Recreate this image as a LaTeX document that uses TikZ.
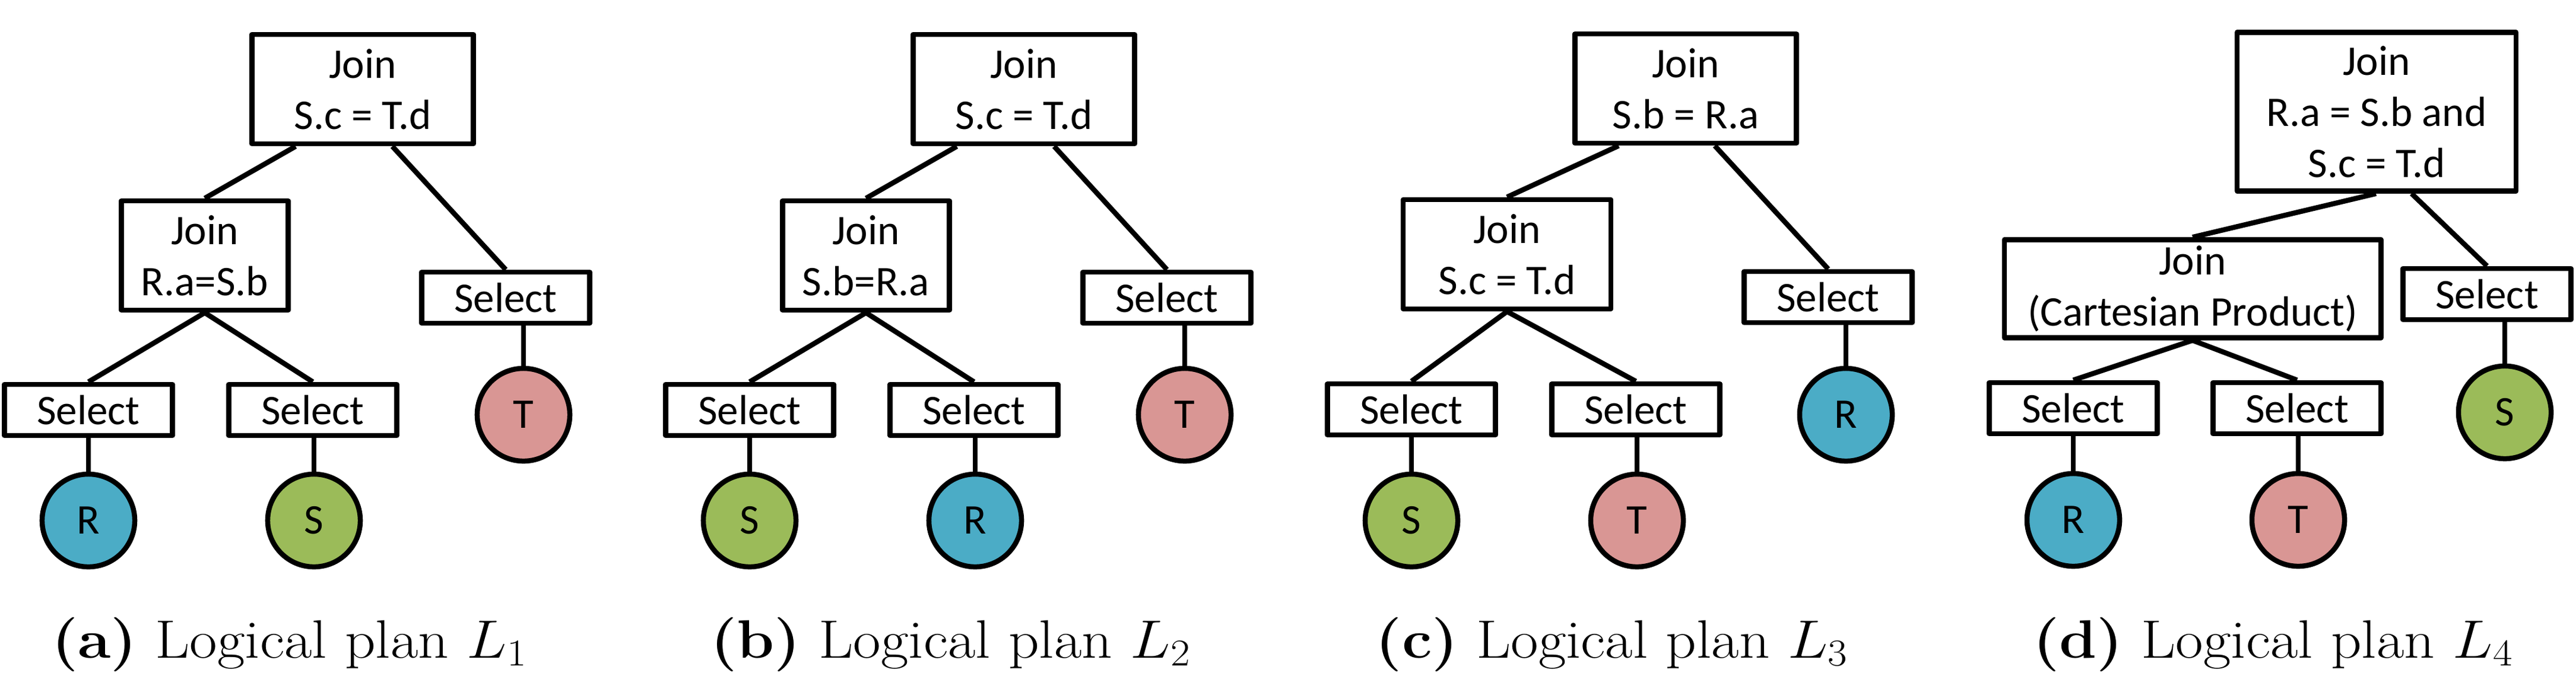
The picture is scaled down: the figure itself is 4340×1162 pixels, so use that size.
\RequirePackage{fix-cm}
\documentclass[tikz,border=0pt]{standalone}
\usepackage{graphicx}
\usepackage{fontspec}
\newfontfamily\opfam{Carlito}
\usetikzlibrary{calc}
\definecolor{relR}{HTML}{4BACC6}
\definecolor{relS}{HTML}{9BBB59}
\definecolor{relT}{HTML}{D99694}
\newcommand{\opfont}{\opfam\fontsize{20.2}{24.5}\selectfont}
\newcommand{\capfont}{\fontsize{25.9}{31}\selectfont}
\newcommand{\plancap}[2]{\scalebox{1.11}[1]{\capfont\textbf{(#1)} Logical plan $L_{#2}$}}
\tikzset{
  opbox/.style={draw, line width=2.42pt, line join=round, inner sep=0pt, align=center, font=\opfont, fill=white},
  selbox/.style={opbox, minimum width=2.83cm, minimum height=0.86cm},
  joinbox/.style={opbox, minimum height=1.84cm},
  rel/.style={circle, draw, line width=2.42pt, minimum size=1.56cm, inner sep=0pt, font=\opfont},
  link/.style={line width=2.42pt},
  captext/.style={anchor=base, inner sep=0pt}
}
\begin{document}
\begin{tikzpicture}[x=0.01cm, y=-0.01cm]
\useasboundingbox (0,0) rectangle (4340,1162);

% ---------- (a) ----------
\node[joinbox, minimum width=3.73cm] (J1a) at (611,150) {Join\\S.c = T.d};
\node[joinbox, minimum width=2.81cm] (J2a) at (345,430) {Join\\R.a=S.b};
\node[selbox] (STa) at (852,501) {Select};
\node[selbox] (SRa) at (149,690) {Select};
\node[selbox] (SSa) at (527,690) {Select};
\node[rel, fill=relR] (Ra) at (149,876) {R};
\node[rel, fill=relS] (Sa) at (529,876) {S};
\node[rel, fill=relT] (Ta) at (882,698) {T};
\draw[link] ($(J1a.south)+(-113,0)$) -- (J2a.north);
\draw[link] ($(J1a.south)+(50,0)$) -- (STa.north);
\draw[link] (J2a.south) -- (SRa.north);
\draw[link] (J2a.south) -- (SSa.north);
\draw[link] (Ra.north) -- (Ra.north |- SRa.south);
\draw[link] (Sa.north) -- (Sa.north |- SSa.south);
\draw[link] (Ta.north) -- (Ta.north |- STa.south);
\node[captext] (capa) at (488,1107) {\plancap{a}{1}};

% ---------- (b) ----------
\node[joinbox, minimum width=3.73cm] (J1b) at (1725,150) {Join\\S.c = T.d};
\node[joinbox, minimum width=2.81cm] (J2b) at (1459,430) {Join\\S.b=R.a};
\node[selbox] (STb) at (1966,501) {Select};
\node[selbox] (SSb) at (1263,690) {Select};
\node[selbox] (SRb) at (1641,690) {Select};
\node[rel, fill=relS] (Sb) at (1263,876) {S};
\node[rel, fill=relR] (Rb) at (1643,876) {R};
\node[rel, fill=relT] (Tb) at (1996,698) {T};
\draw[link] ($(J1b.south)+(-113,0)$) -- (J2b.north);
\draw[link] ($(J1b.south)+(51,0)$) -- (STb.north);
\draw[link] (J2b.south) -- (SSb.north);
\draw[link] (J2b.south) -- (SRb.north);
\draw[link] (Sb.north) -- (Sb.north |- SSb.south);
\draw[link] (Rb.north) -- (Rb.north |- SRb.south);
\draw[link] (Tb.north) -- (Tb.north |- STb.south);
\node[captext] (capb) at (1602,1107) {\plancap{b}{2}};

% ---------- (c) ----------
\node[joinbox, minimum width=3.73cm] (J1c) at (2840,149) {Join\\S.b = R.a};
\node[joinbox, minimum width=3.50cm] (J2c) at (2539,428) {Join\\S.c = T.d};
\node[selbox] (SRc) at (3080,500) {Select};
\node[selbox] (SSc) at (2378,689) {Select};
\node[selbox] (STc) at (2756,689) {Select};
\node[rel, fill=relS] (Sc) at (2378,876) {S};
\node[rel, fill=relT] (Tc) at (2758,876) {T};
\node[rel, fill=relR] (Rc) at (3110,698) {R};
\draw[link] ($(J1c.south)+(-113,0)$) -- (J2c.north);
\draw[link] ($(J1c.south)+(49,0)$) -- (SRc.north);
\draw[link] (J2c.south) -- (SSc.north);
\draw[link] (J2c.south) -- (STc.north);
\draw[link] (Sc.north) -- (Sc.north |- SSc.south);
\draw[link] (Tc.north) -- (Tc.north |- STc.south);
\draw[link] (Rc.north) -- (Rc.north |- SRc.south);
\node[captext] (capc) at (2716,1107) {\plancap{c}{3}};

% ---------- (d) ----------
\node[opbox, minimum width=4.70cm, minimum height=2.67cm] (J1d) at (4004,188) {Join\\R.a = S.b and\\S.c = T.d};
\node[opbox, minimum width=6.34cm, minimum height=1.65cm] (J2d) at (3694,486) {Join\\(Cartesian Product)};
\node[selbox] (SSd) at (4190,495) {Select};
\node[selbox] (SRd) at (3493,687) {Select};
\node[selbox] (STd) at (3870,687) {Select};
\node[rel, fill=relR] (Rd) at (3493,875) {R};
\node[rel, fill=relT] (Td) at (3872,875) {T};
\node[rel, fill=relS] (Sd) at (4220,694) {S};
\draw[link] ($(J1d.south)+(-1,0)$) -- (J2d.north);
\draw[link] ($(J1d.south)+(59,0)$) -- (SSd.north);
\draw[link] (J2d.south) -- (SRd.north);
\draw[link] (J2d.south) -- (STd.north);
\draw[link] (Rd.north) -- (Rd.north |- SRd.south);
\draw[link] (Td.north) -- (Td.north |- STd.south);
\draw[link] (Sd.north) -- (Sd.north |- SSd.south);
\node[captext] (capd) at (3830,1107) {\plancap{d}{4}};
\end{tikzpicture}
\end{document}
